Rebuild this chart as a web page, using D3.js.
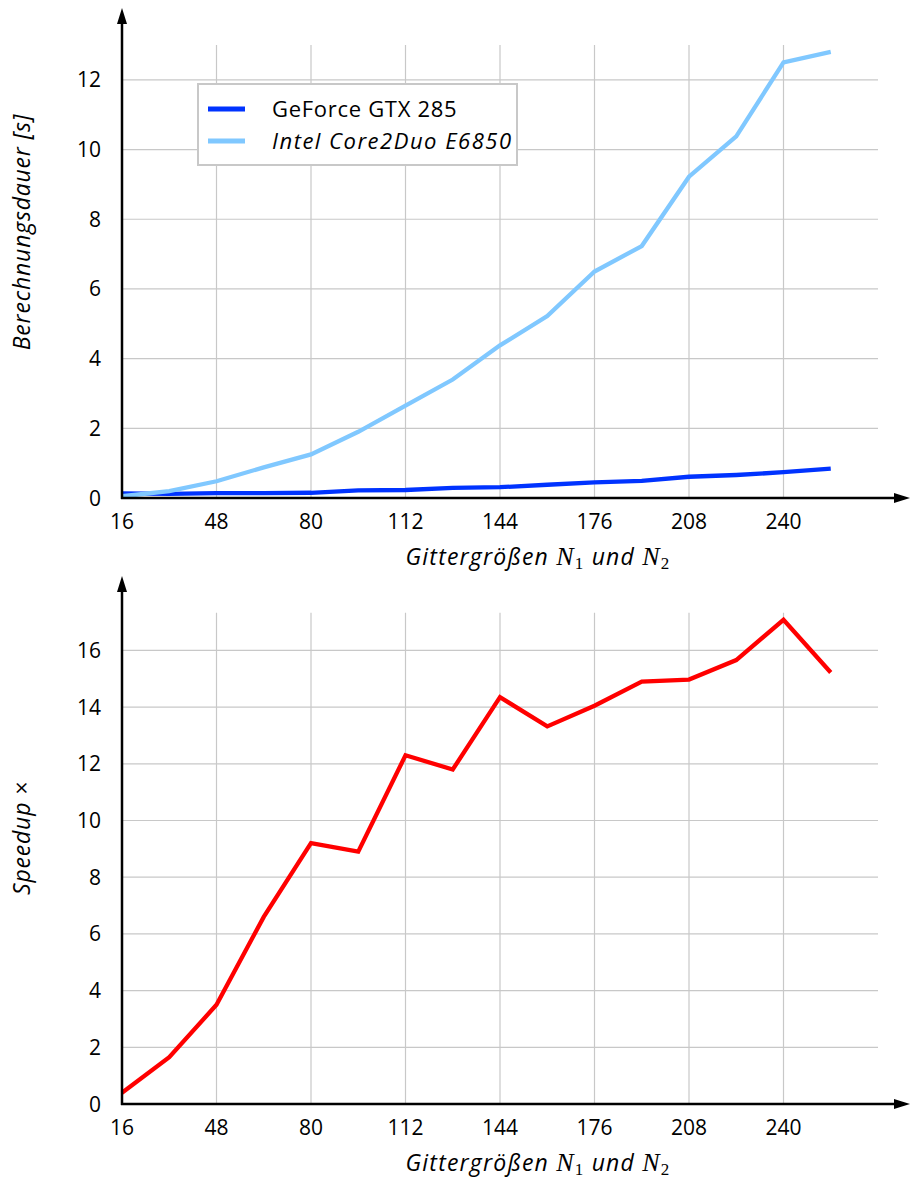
<!DOCTYPE html>
<html>
<head>
<meta charset="utf-8">
<script src="https://cdn.jsdelivr.net/npm/d3@7"></script>
<style>
  body { margin: 0; background: #fff; }
  svg text { font-family: "Open Sans", "DejaVu Sans", sans-serif; fill: #000; }
</style>
</head>
<body>
<script>
var width = 910, height = 1178;

// grid sizes N1 = N2
var sizes = [16, 32, 48, 64, 80, 96, 112, 128, 144, 160, 176, 192, 208, 224, 240, 256];
// computation time [s]
var gpuTime = [0.13, 0.12, 0.14, 0.14, 0.15, 0.22, 0.23, 0.29, 0.31, 0.38, 0.45, 0.49, 0.61, 0.66, 0.74, 0.84];
var cpuTime = [0.05, 0.2, 0.48, 0.88, 1.25, 1.9, 2.65, 3.4, 4.38, 5.22, 6.5, 7.23, 9.22, 10.38, 12.5, 12.8];
// speedup factor
var speedup = [0.4, 1.65, 3.5, 6.6, 9.2, 8.9, 12.3, 11.8, 14.35, 13.32, 14.05, 14.9, 14.97, 15.66, 17.08, 15.22];

var xTicks = [16, 48, 80, 112, 144, 176, 208, 240];
var timeTicks = [0, 2, 4, 6, 8, 10, 12];
var speedTicks = [0, 2, 4, 6, 8, 10, 12, 14, 16];

var seriesNames = ["GeForce GTX 285", "Intel Core2Duo E6850"];
var seriesColors = ["#0033ff", "#80c8ff"];

var svg = d3.select("body")
    .append("svg")
    .attr("width", width)
    .attr("height", height);

svg.append("defs").append("marker")
    .attr("id", "arrow")
    .attr("viewBox", "0 0 16 10")
    .attr("refX", 0).attr("refY", 5)
    .attr("markerWidth", 16).attr("markerHeight", 10)
    .attr("markerUnits", "userSpaceOnUse")
    .attr("orient", "auto")
  .append("path")
    .attr("d", "M0,0 L16,5 L0,10 Z")
    .attr("fill", "#000");

var x = d3.scaleLinear().domain([16, 272]).range([122, 878]);

function panel(opts) {
  var y = d3.scaleLinear().domain(opts.yDomain).range([opts.bottom, opts.top]);
  var g = svg.append("g");

  // grid
  g.append("g").selectAll("line")
    .data(xTicks.slice(1))
    .enter().append("line")
      .attr("x1", function(d) { return x(d); })
      .attr("x2", function(d) { return x(d); })
      .attr("y1", opts.top)
      .attr("y2", opts.bottom)
      .attr("stroke", "#c8c8c8")
      .attr("stroke-width", 1.2);
  g.append("g").selectAll("line")
    .data(opts.yTicks.slice(1))
    .enter().append("line")
      .attr("x1", x.range()[0])
      .attr("x2", x.range()[1])
      .attr("y1", function(d) { return y(d); })
      .attr("y2", function(d) { return y(d); })
      .attr("stroke", "#c8c8c8")
      .attr("stroke-width", 1.2);

  // data lines
  var line = d3.line()
    .x(function(d) { return x(d[0]); })
    .y(function(d) { return y(d[1]); });
  opts.series.forEach(function(s) {
    g.append("path")
      .datum(d3.zip(sizes, s.values))
      .attr("fill", "none")
      .attr("stroke", s.color)
      .attr("stroke-width", 4.3)
      .attr("d", line);
  });

  // axes with arrows
  g.append("line")
    .attr("x1", 121).attr("x2", 894)
    .attr("y1", opts.bottom).attr("y2", opts.bottom)
    .attr("stroke", "#000").attr("stroke-width", 2.5)
    .attr("marker-end", "url(#arrow)");
  g.append("line")
    .attr("x1", 122).attr("x2", 122)
    .attr("y1", opts.bottom + 1).attr("y2", opts.arrowTop + 16)
    .attr("stroke", "#000").attr("stroke-width", 2.5)
    .attr("marker-end", "url(#arrow)");

  // tick labels
  g.append("g").selectAll("text")
    .data(xTicks)
    .enter().append("text")
      .attr("x", function(d) { return x(d); })
      .attr("y", opts.bottom + 31)
      .attr("text-anchor", "middle")
      .attr("font-size", 21)
      .text(function(d) { return d; });
  g.append("g").selectAll("text")
    .data(opts.yTicks)
    .enter().append("text")
      .attr("x", 101)
      .attr("y", function(d) { return y(d) + 7.5; })
      .attr("text-anchor", "end")
      .attr("font-size", 21)
      .text(function(d) { return d; });

  // x axis title
  var xt = g.append("text")
    .attr("x", 538)
    .attr("y", opts.bottom + 67)
    .attr("text-anchor", "middle")
    .attr("font-size", 23)
    .attr("letter-spacing", 1.2)
    .attr("font-style", "italic");
  xt.append("tspan").text("Gittergrößen ");
  xt.append("tspan").attr("font-family", "Liberation Serif").attr("font-size", 26).text("N");
  xt.append("tspan").attr("font-family", "Liberation Serif").attr("font-style", "normal").attr("font-size", 17).attr("dy", 4).text("1");
  xt.append("tspan").attr("dy", -4).text("  und ");
  xt.append("tspan").attr("font-family", "Liberation Serif").attr("font-size", 26).text("N");
  xt.append("tspan").attr("font-family", "Liberation Serif").attr("font-style", "normal").attr("font-size", 17).attr("dy", 4).text("2");

  // y axis title
  g.append("text")
    .attr("transform", "translate(30," + opts.yTitleY + ") rotate(-90)")
    .attr("text-anchor", "middle")
    .attr("font-size", 23)
    .attr("letter-spacing", 0.8)
    .attr("font-style", "italic")
    .text(opts.yTitle);

  return { g: g, y: y };
}

var timePanel = panel({
  top: 45, bottom: 498, arrowTop: 8,
  yDomain: [0, 13], yTicks: timeTicks,
  yTitle: "Berechnungsdauer [s]", yTitleY: 232,
  series: [
    { values: gpuTime, color: seriesColors[0] },
    { values: cpuTime, color: seriesColors[1] }
  ]
});

panel({
  top: 612.7, bottom: 1104, arrowTop: 576,
  yDomain: [0, 17.33], yTicks: speedTicks,
  yTitle: "Speedup \u00d7", yTitleY: 838,
  series: [ { values: speedup, color: "#ff0000" } ]
});

// legend
var legend = timePanel.g.append("g");
legend.append("rect")
  .attr("x", 198).attr("y", 84)
  .attr("width", 319).attr("height", 81)
  .attr("fill", "#fff")
  .attr("stroke", "#c8c8c8")
  .attr("stroke-width", 2);
var item = legend.selectAll("g.item")
  .data(seriesNames)
  .enter().append("g")
    .attr("class", "item")
    .attr("transform", function(d, i) { return "translate(0," + (109 + i * 32) + ")"; });
item.append("line")
  .attr("x1", 208).attr("x2", 245)
  .attr("stroke", function(d, i) { return seriesColors[i]; })
  .attr("stroke-width", 5);
item.append("text")
  .attr("x", 272)
  .attr("y", 8)
  .attr("font-size", 22)
  .attr("letter-spacing", function(d, i) { return i === 1 ? 1.5 : 0.7; })
  .attr("font-style", function(d, i) { return i === 1 ? "italic" : "normal"; })
  .text(function(d) { return d; });
</script>
</body>
</html>
